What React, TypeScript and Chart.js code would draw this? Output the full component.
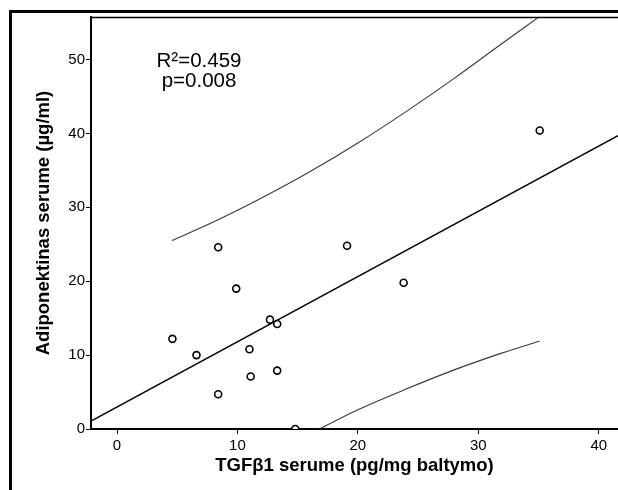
import React, { useEffect, useRef } from "react";
import { Chart, registerables } from "chart.js";

Chart.register(...registerables);

// ---- data ----
const tgfX = [8.4, 9.9, 12.7, 13.3, 4.6, 6.6, 11.0, 11.1, 13.3, 8.4, 14.8, 35.1, 19.1, 23.8];
const adipoY = [24.6, 19.0, 14.8, 14.2, 12.2, 10.0, 10.8, 7.1, 7.9, 4.7, 0.0, 40.4, 24.8, 19.8];

const fitX = [-2.16, 41.6];
const fitY = [1.08, 39.7];

const upperX = [4.56, 8, 12, 16, 20, 24, 28, 32, 34.9];
const upperY = [25.5, 28.0, 31.25, 34.8, 38.7, 42.95, 47.45, 52.2, 55.6];
const lowerX = [16.8, 20, 24, 28, 32, 35.1];
const lowerY = [0, 2.6, 5.4, 8.0, 10.3, 11.9];

const xTicks = [0, 10, 20, 30, 40];
const yTicks = [0, 10, 20, 30, 40, 50];
const xRange = [-2.16, 41.6];
const yRange = [0, 55.75];

const xTitle = "TGFβ1 serume (pg/mg baltymo)";
const yTitle = "Adiponektinas serume (µg/ml)";
const statLines = ["R²=0.459", "p=0.008"];

const FONT = '"Liberation Sans", Arial, sans-serif';

const pairs = (xs: number[], ys: number[]) => xs.map((x, i) => ({ x, y: ys[i] }));

const decor = {
  id: "decor",
  afterDraw(chart: any) {
    const { ctx, chartArea } = chart;
    ctx.save();
    ctx.fillStyle = "#000";
    // outer frame (top and left)
    ctx.fillRect(9, 10, 618 - 9, 3);
    ctx.fillRect(9, 10, 3, 490 - 10);
    // plot top border
    ctx.strokeStyle = "#000";
    ctx.lineWidth = 1.5;
    ctx.beginPath();
    ctx.moveTo(chartArea.left, chartArea.top + 0.5);
    ctx.lineTo(chartArea.right, chartArea.top + 0.5);
    ctx.stroke();
    // statistics text
    ctx.font = `20.5px ${FONT}`;
    ctx.textAlign = "center";
    ctx.textBaseline = "middle";
    const cx = chartArea.left + 108;
    ctx.fillText(statLines[0], cx, 61);
    ctx.fillText(statLines[1], cx, 81);
    ctx.restore();
  },
};

export default function App() {
  const ref = useRef<HTMLCanvasElement | null>(null);

  useEffect(() => {
    if (!ref.current) return;
    const chart = new Chart(ref.current, {
      type: "scatter",
      data: {
        datasets: [
          {
            label: "fit",
            data: pairs(fitX, fitY),
            showLine: true,
            borderColor: "#000",
            borderWidth: 1.4,
            pointRadius: 0,
          },
          {
            label: "upper",
            data: pairs(upperX, upperY),
            showLine: true,
            borderColor: "#3a3a3a",
            borderWidth: 1.1,
            pointRadius: 0,
            cubicInterpolationMode: "monotone",
          },
          {
            label: "lower",
            data: pairs(lowerX, lowerY),
            showLine: true,
            borderColor: "#3a3a3a",
            borderWidth: 1.1,
            pointRadius: 0,
            cubicInterpolationMode: "monotone",
          },
          {
            label: "points",
            data: pairs(tgfX, adipoY),
            showLine: false,
            pointRadius: 3.5,
            pointBorderWidth: 1.6,
            pointBorderColor: "#000",
            pointBackgroundColor: "#fff",
            clip: 0,
          } as any,
        ],
      },
      options: {
        responsive: false,
        animation: false,
        events: [],
        layout: { autoPadding: false, padding: { top: 17, left: 0, right: 0, bottom: 0 } },
        plugins: { legend: { display: false }, tooltip: { enabled: false } },
        scales: {
          x: {
            type: "linear",
            position: "bottom",
            min: xRange[0],
            max: xRange[1],
            afterBuildTicks: (s: any) => {
              s.ticks = xTicks.map((v) => ({ value: v }));
            },
            afterFit: (s: any) => {
              s.height = 61;
              s.paddingLeft = 0;
              s.paddingRight = 0;
            },
            ticks: { color: "#000", font: { family: FONT, size: 15 }, padding: 3, maxRotation: 0 },
            grid: { drawOnChartArea: false, drawTicks: true, tickLength: 5, color: "#000", lineWidth: 1 },
            border: { color: "#000", width: 2 },
            title: {
              display: true,
              text: xTitle,
              color: "#000",
              font: { family: FONT, size: 18.5, weight: "bold" },
              padding: { top: 0, bottom: 13 },
            },
          },
          y: {
            type: "linear",
            position: "left",
            min: yRange[0],
            max: yRange[1],
            afterBuildTicks: (s: any) => {
              s.ticks = yTicks.map((v) => ({ value: v }));
            },
            afterFit: (s: any) => {
              s.width = 91;
              s.paddingTop = 0;
              s.paddingBottom = 0;
            },
            ticks: { color: "#000", font: { family: FONT, size: 15 }, padding: 1 },
            grid: { drawOnChartArea: false, drawTicks: true, tickLength: 5, color: "#000", lineWidth: 1 },
            border: { color: "#000", width: 2 },
            title: {
              display: true,
              text: yTitle,
              color: "#000",
              font: { family: FONT, size: 18.5, weight: "bold" },
              padding: { top: 33, bottom: 0 },
            },
          },
        },
      },
      plugins: [decor],
    });
    return () => chart.destroy();
  }, []);

  return (
    <canvas
      ref={ref}
      width={618}
      height={490}
      style={{ position: "fixed", left: 0, top: 0, width: 618, height: 490, display: "block", background: "#fff" }}
    />
  );
}
